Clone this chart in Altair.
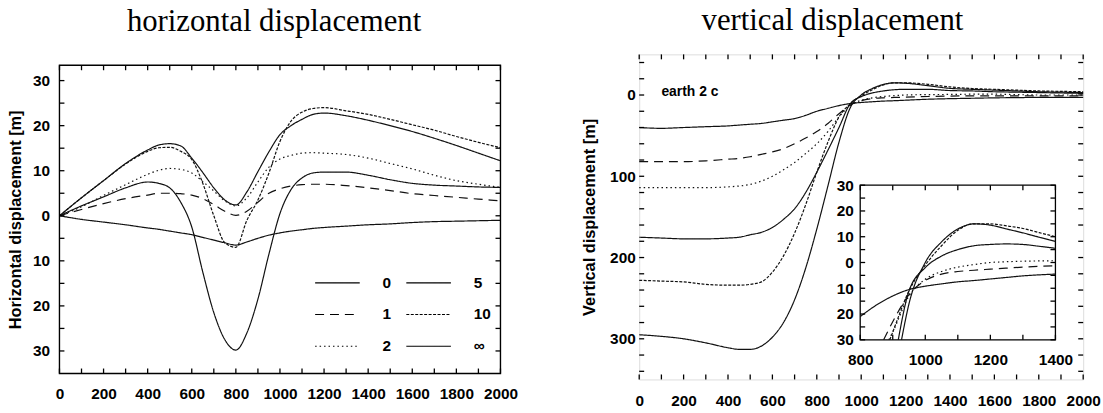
import altair as alt
import pandas as pd

# ---------------- data ----------------
series = ["0", "1", "2", "5", "10", "∞"]

# horizontal displacement [m]
x_h = [0, 100, 200, 300, 400, 450, 500, 550, 600, 650, 700, 750, 800, 850, 900, 950,
       1000, 1050, 1100, 1150, 1200, 1300, 1400, 1500, 1600, 1700, 1800, 1900, 2000]
h_0 = [0, -0.8, -1.4, -2.0, -2.7, -3.0, -3.4, -3.8, -4.2, -4.8, -5.4, -6.0, -6.5, -5.8, -5.0, -4.3,
       -3.8, -3.4, -3.1, -2.8, -2.6, -2.3, -2.0, -1.8, -1.5, -1.3, -1.2, -1.1, -1.0]
h_1 = [0, 1.4, 2.7, 3.8, 4.6, 5.0, 5.0, 4.9, 4.6, 3.8, 2.5, 1.0, 0.1, 1.0, 3.0, 5.0,
       6.0, 6.6, 6.9, 7.0, 7.0, 6.7, 6.2, 5.6, 4.9, 4.5, 4.1, 3.7, 3.3]
h_2 = [0, 2.0, 4.5, 6.9, 9.2, 10.1, 10.5, 10.3, 9.5, 7.6, 5.5, 3.3, 2.2, 4.0, 7.5, 10.8,
       12.6, 13.4, 13.9, 14.0, 13.9, 13.6, 12.8, 11.6, 10.4, 9.0, 7.8, 7.0, 6.3]
h_5 = [0, 4.0, 7.8, 11.6, 14.6, 15.7, 16.0, 15.5, 12.8, 9.6, 6.2, 3.5, 2.4, 5.3, 9.8, 14.2,
       18.0, 20.0, 21.4, 22.5, 22.8, 22.2, 21.2, 20.0, 18.7, 17.2, 15.6, 13.9, 12.2]
h_10 = [0, 4.0, 7.8, 11.5, 14.3, 15.1, 15.2, 14.3, 12.5, 7.2, 0.0, -6.0, -7.0, -1.0, 3.5, 9.5,
        16.5, 21.0, 23.0, 23.8, 24.0, 23.3, 22.5, 21.4, 20.2, 19.0, 17.6, 16.3, 15.1]
h_inf = [0, 2.2, 4.2, 6.2, 7.5, 7.2, 6.2, 3.0, -2.5, -12.5, -21.5, -27.5, -29.8, -26.0, -18.5, -8.5,
         0.5, 5.8, 8.4, 9.5, 9.7, 9.7, 9.0, 8.0, 7.2, 6.8, 6.6, 6.4, 6.3]

# vertical displacement [m] (uplift positive, subsidence negative)
x_v = [0, 100, 200, 300, 400, 450, 500, 550, 600, 650, 700, 750, 800, 850, 900, 950,
       1000, 1050, 1100, 1150, 1200, 1300, 1400, 1500, 1600, 1700, 1800, 1900, 2000]
v_0 = [-40, -41, -40, -39, -38, -37, -36, -35, -33, -31, -29, -25, -20, -16.5, -13, -10.5,
       -9.2, -8.3, -7.5, -7, -6.4, -5.2, -4.5, -4, -3.5, -3.2, -3, -3, -3]
v_1 = [-82, -82, -82, -81, -79, -78, -76, -73, -70, -66, -60, -53, -45, -35, -23, -12.5,
       -7, -4.5, -3.5, -3, -2.6, -1.8, -1.3, -1, -1, -1, -1, -1, -1]
v_2 = [-114, -114, -114, -114, -113, -112, -110, -106, -100, -92, -83, -72, -60, -45, -27, -13,
       -6.5, -3.5, -1.8, -0.8, 0, 0.5, 0.7, 1, 1, 0.5, 0, 0, 0]
v_5 = [-175, -176, -177, -177, -176, -175, -172, -169, -163, -153, -140, -120, -95, -68, -40, -11,
       -2, 2.5, 5, 6.5, 7, 7, 5.5, 5, 4, 3.5, 3, 2.5, 2]
v_10 = [-228, -229, -230, -233, -234, -234, -233, -230, -218, -198, -170, -135, -95, -58, -27, -11,
        -1, 6.5, 12.5, 15, 15, 13.2, 10, 8, 7, 6, 5, 4.5, 4]
v_inf = [-295, -297, -300, -305, -311, -313, -313, -309, -298, -280, -252, -213, -165, -112, -58, -16,
         0, 8, 13, 15, 14.5, 11.5, 8.2, 7, 6, 5, 4, 3.5, 3]

# inset (800-1400, -30..30)
ix_0 = [800, 850, 900, 950, 1000, 1050, 1100, 1150, 1200, 1250, 1300, 1350, 1400]
iv_0 = [-21, -16.5, -13, -10.5, -9.2, -8.3, -7.5, -7, -6.4, -5.8, -5.2, -4.8, -4.5]
ix_1 = [872, 900, 950, 1000, 1050, 1100, 1150, 1200, 1250, 1300, 1350, 1400]
iv_1 = [-30, -23, -12.5, -7, -4.5, -3.5, -3, -2.6, -2.2, -1.8, -1.5, -1.3]
ix_2 = [888, 900, 950, 1000, 1050, 1100, 1150, 1200, 1250, 1300, 1350, 1400]
iv_2 = [-30, -27, -13, -6.5, -3.5, -1.8, -0.8, 0, 0.3, 0.5, 0.6, 0.7]
ix_5 = [917, 950, 1000, 1050, 1100, 1150, 1200, 1250, 1300, 1350, 1400]
iv_5 = [-30, -11, -2, 2.5, 5, 6.5, 7, 7.2, 7, 6.3, 5.5]
ix_10 = [891, 900, 950, 1000, 1050, 1100, 1150, 1200, 1250, 1300, 1350, 1400]
iv_10 = [-30, -27, -11, -1, 6.5, 12.5, 15, 15, 14.2, 13.2, 11.6, 10]
ix_inf = [927, 950, 1000, 1050, 1100, 1150, 1200, 1250, 1300, 1350, 1400]
iv_inf = [-30, -16, 0, 8, 13, 15, 14.5, 13, 11.5, 9.8, 8.2]

note_text = ["earth 2 c"]
note_x = [100]
note_y = [4]

# axis domains and tick values
h_xdom = [0, 2000]
h_ydom = [-35, 33.4]
v_xdom = [0, 2000]
v_ydom = [-350, 50]
i_xdom = [800, 1400]
i_ydom = [-30, 30]
xt = list(range(0, 2001, 100))
yt_h = list(range(-30, 31, 5))
yt_v = list(range(-340, 41, 20))
xt_i = list(range(800, 1401, 100))
yt_i = list(range(-30, 31, 5))

# ---------------- tables ----------------
def table(pairs):
    rows = []
    for name, xs, ys in pairs:
        for i, (a, b) in enumerate(zip(xs, ys)):
            rows.append({"series": name, "x": a, "y": b, "i": i})
    return pd.DataFrame(rows)

df_h = table([(s, x_h, v) for s, v in zip(series, [h_0, h_1, h_2, h_5, h_10, h_inf])])
df_v = table([(s, x_v, v) for s, v in zip(series, [v_0, v_1, v_2, v_5, v_10, v_inf])])
df_i = table([("0", ix_0, iv_0), ("1", ix_1, iv_1), ("2", ix_2, iv_2),
              ("5", ix_5, iv_5), ("10", ix_10, iv_10), ("∞", ix_inf, iv_inf)])
df_note = pd.DataFrame({"x": note_x, "y": note_y, "t": note_text})

def box_df(xd, yd):
    return pd.DataFrame({"x": [xd[0]], "x2": [xd[1]], "y": [yd[0]], "y2": [yd[1]]})

# ---------------- style ----------------
LF = "Liberation Sans, Arial, sans-serif"
TF = "Liberation Serif, Times New Roman, serif"
dash_range = {"0": [1, 0], "1": [9, 6], "2": [1.5, 3], "5": [1, 0], "10": [3, 1.5], "∞": [1, 0]}
TS = 5  # inward tick length

def ax(orient, values, expr, pad, title=None, offset=0, **kw):
    d = dict(orient=orient, values=values, domain=False, grid=False, ticks=False, tickSize=0,
             offset=offset, labelFont=LF, labelFontSize=15.5, labelFontWeight="bold",
             labelColor="black", labelPadding=pad, labelOverlap=False, labelFlush=False,
             format="d", labelExpr=expr, title=title)
    if title:
        d.update(titleFont=LF, titleFontSize=16.5, titleFontWeight="bold", titleColor="black")
    d.update(kw)
    return alt.Axis(**d)

lab200 = "datum.value % 200 === 0 ? datum.label : ''"
abs10 = "datum.value % 10 === 0 ? format(abs(datum.value), 'd') : ''"
abs100 = "datum.value % 100 === 0 ? format(abs(datum.value), 'd') : ''"

def dash_enc(legend):
    return alt.StrokeDash("series:N",
                          scale=alt.Scale(domain=series, range=[dash_range[s] for s in series]),
                          legend=legend)

def xticks(values, scale, y_edge, direction):
    # inward tick marks along a horizontal edge, placed by the x scale
    return alt.Chart(pd.DataFrame({"v": values})).mark_rule(color="black", strokeWidth=1.3).encode(
        x=alt.X("v:Q", scale=scale, axis=None),
        y=alt.value(y_edge), y2=alt.value(y_edge + direction * TS))

def yticks(values, scale, x_edge, direction):
    # inward tick marks along a vertical edge, placed by the y scale
    return alt.Chart(pd.DataFrame({"v": values})).mark_rule(color="black", strokeWidth=1.3).encode(
        y=alt.Y("v:Q", scale=scale, axis=None),
        x=alt.value(x_edge), x2=alt.value(x_edge + direction * TS))

# ---------------- left panel ----------------
WL, HL = 445, 322
LTOP = 11  # left plot frame starts lower than the right one
xs_h = alt.Scale(domain=h_xdom, nice=False, zero=False)
ys_h = alt.Scale(domain=h_ydom, nice=False, zero=False, range=[HL, LTOP])

left_legend = alt.Legend(orient="none", legendX=257, legendY=207, columns=2,
                         symbolType="stroke", symbolSize=2025, symbolStrokeWidth=1.2,
                         symbolStrokeColor="black", labelFont=LF, labelFontSize=15.5,
                         labelFontWeight="bold", labelColor="black", labelOffset=22,
                         columnPadding=12, rowPadding=0, title=None, padding=0)

left_frame = alt.Chart(box_df(h_xdom, h_ydom)).mark_rect(
    fillOpacity=0, stroke="black", strokeWidth=1.4).encode(
    x=alt.X("x:Q", scale=xs_h, axis=None), x2="x2:Q",
    y=alt.Y("y:Q", scale=ys_h, axis=None), y2="y2:Q")
left_lines = alt.Chart(df_h).mark_line(color="#111", strokeWidth=1.2, interpolate="monotone").encode(
    x=alt.X("x:Q", scale=xs_h, axis=ax("bottom", xt, lab200, pad=13)),
    y=alt.Y("y:Q", scale=ys_h, axis=ax("left", yt_h, abs10, pad=10,
                                       title="Horizontal displacement [m]", titlePadding=9)),
    strokeDash=dash_enc(left_legend),
    order="i:Q",
)
left = alt.layer(
    left_lines, left_frame,
    xticks(xt, xs_h, HL, -1), xticks(xt, xs_h, LTOP, 1),
    yticks(yt_h, ys_h, 0, 1), yticks(yt_h, ys_h, WL, -1),
).resolve_scale(x="independent", y="independent").resolve_axis(
    x="independent", y="independent").properties(
    width=WL, height=HL, view=alt.ViewBackground(stroke=None),
    title=alt.TitleParams("horizontal displacement", font=TF, fontSize=31, fontWeight="normal",
                          color="black", anchor="middle", frame="group", offset=17, dx=-6))

# ---------------- right panel ----------------
WR, HR = 448, 328
xs_v = alt.Scale(domain=v_xdom, nice=False, zero=False)
ys_v = alt.Scale(domain=v_ydom, nice=False, zero=False)

# inset placed inside the right plot area
IX0, IX1, IY0, IY1 = 223, 420, 132, 288
xs_i = alt.Scale(domain=i_xdom, nice=False, zero=False, range=[IX0, IX1])
ys_i = alt.Scale(domain=i_ydom, nice=False, zero=False, range=[IY1, IY0])

right_lines = alt.Chart(df_v).mark_line(color="#111", strokeWidth=1.2, interpolate="monotone").encode(
    x=alt.X("x:Q", scale=xs_v, axis=ax("bottom", xt, lab200, pad=14)),
    y=alt.Y("y:Q", scale=ys_v, axis=ax("left", yt_v, abs100, pad=4,
                                       title="Vertical displacement [m]", titlePadding=12)),
    strokeDash=dash_enc(None),
    order="i:Q",
)
note = alt.Chart(df_note).mark_text(align="left", baseline="middle", font=LF, fontSize=14,
                                    fontWeight="bold", color="black").encode(
    x=alt.X("x:Q", scale=xs_v, axis=None),
    y=alt.Y("y:Q", scale=ys_v, axis=None),
    text="t:N",
)
box = alt.Chart(box_df(i_xdom, i_ydom)).mark_rect(fill="white", stroke="black", strokeWidth=1.3).encode(
    x=alt.X("x:Q", scale=xs_i, axis=ax("bottom", xt_i, lab200, pad=13, offset=IY1 - HR)),
    x2="x2:Q",
    y=alt.Y("y:Q", scale=ys_i, axis=ax("left", yt_i, abs10, pad=7, offset=-IX0)),
    y2="y2:Q",
)
inset_lines = alt.Chart(df_i).mark_line(color="#111", strokeWidth=1.2, interpolate="monotone").encode(
    x=alt.X("x:Q", scale=xs_i, axis=None),
    y=alt.Y("y:Q", scale=ys_i, axis=None),
    strokeDash=dash_enc(None),
    order="i:Q",
)
right = alt.layer(
    right_lines, note,
    xticks(xt, xs_v, HR, -1), xticks(xt, xs_v, 0, 1),
    yticks(yt_v, ys_v, 0, 1), yticks(yt_v, ys_v, WR, -1),
    box, inset_lines,
    xticks(xt_i, xs_i, IY1, -1), xticks(xt_i, xs_i, IY0, 1),
    yticks(yt_i, ys_i, IX0, 1), yticks(yt_i, ys_i, IX1, -1),
).resolve_scale(x="independent", y="independent").resolve_axis(
    x="independent", y="independent").properties(
    width=WR, height=HR,
    title=alt.TitleParams("vertical displacement", font=TF, fontSize=31, fontWeight="normal",
                          color="black", anchor="middle", frame="group", offset=17, dx=-29))

chart = alt.hconcat(left, right, spacing=63).resolve_scale(
    x="independent", y="independent", strokeDash="independent").properties(
    padding={"left": 7, "top": 2, "right": 2, "bottom": 2}).configure_view(
    stroke="black", strokeWidth=1.4).configure(background="white")

chart.save("out.html", embed_options={"renderer": "svg", "actions": False})
